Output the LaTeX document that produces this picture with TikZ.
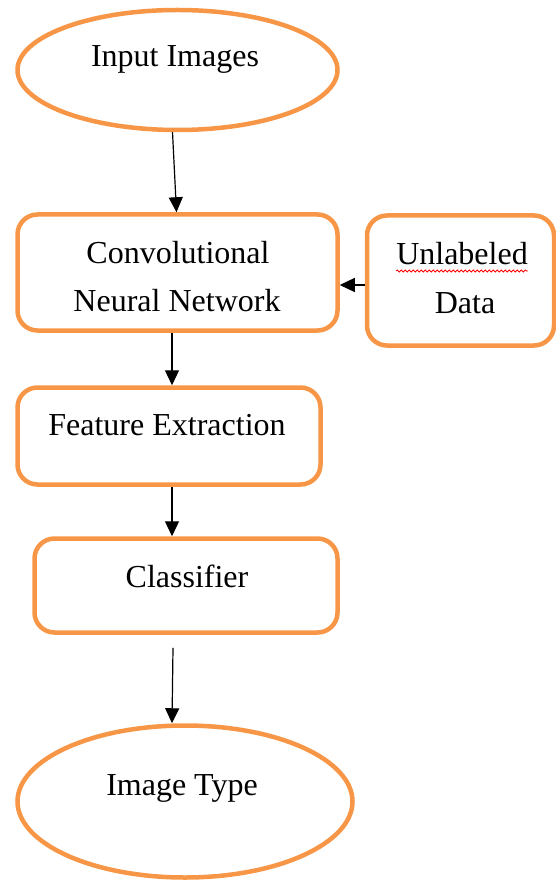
\documentclass[tikz,border=0pt]{standalone}
\usepackage{fontspec}
\setmainfont{Liberation Serif}
\usetikzlibrary{shapes.geometric,arrows.meta,decorations.pathmorphing}
\definecolor{boxorange}{HTML}{F79646}
\begin{document}
\begin{tikzpicture}[x=1pt,y=-1pt,
 shapebox/.style={draw=boxorange,line width=4.5pt,rectangle,rounded corners=20pt,inner sep=0pt},
 oval/.style={draw=boxorange,line width=4.5pt,ellipse,inner sep=0pt},
 lbl/.style={font=\fontsize{32}{38}\selectfont,anchor=base,inner sep=0pt},
 arr/.style={-{Triangle[width=14pt,length=15pt]},line width=1.2pt,black}]
\useasboundingbox (0,0) rectangle (555,882);
\node[oval,minimum width=320pt,minimum height=120pt] (in) at (177.5,70) {};
\node[lbl] (inT) at (175,67) {Input Images};
\node[shapebox,minimum width=320pt,minimum height=116pt] (cnn) at (177.5,272.5) {};
\node[lbl] (cnnA) at (178,263) {Convolutional};
\node[lbl] (cnnB) at (177,311) {Neural Network};
\node[shapebox,minimum width=187pt,minimum height=130pt] (ud) at (460.5,280.5) {};
\node[lbl] (udA) at (462,265) {Unlabeled};
\node[lbl] (udB) at (465,313) {Data};
\node[shapebox,minimum width=303pt,minimum height=97pt] (fe) at (169,436) {};
\node[lbl] (feT) at (167,435) {Feature Extraction};
\node[shapebox,minimum width=303pt,minimum height=94pt] (cls) at (186,585.5) {};
\node[lbl] (clsT) at (187,587) {Classifier};
\node[oval,minimum width=335pt,minimum height=152pt] (out) at (185,801.5) {};
\node[lbl] (outT) at (182,795) {Image Type};
\draw[red,line width=0.8pt,decorate,decoration={snake,amplitude=1pt,segment length=4pt}]
  ([yshift=-6pt]udA.base west) -- ([yshift=-6pt]udA.base east);
\draw[arr] ([xshift=-5pt]in.south) -- ([xshift=-1pt]cnn.north);
\draw[arr] ([yshift=-4.5pt]ud.west) -- ([yshift=-12.5pt]cnn.east);
\draw[arr] ([xshift=-5.5pt]cnn.south) -- ([xshift=3pt]fe.north);
\draw[arr] ([xshift=3pt]fe.south) -- ([xshift=-14pt]cls.north);
\draw[arr] ([xshift=-13pt,yshift=-13pt]cls.south) -- ([xshift=-13pt]out.north);
\end{tikzpicture}
\end{document}
